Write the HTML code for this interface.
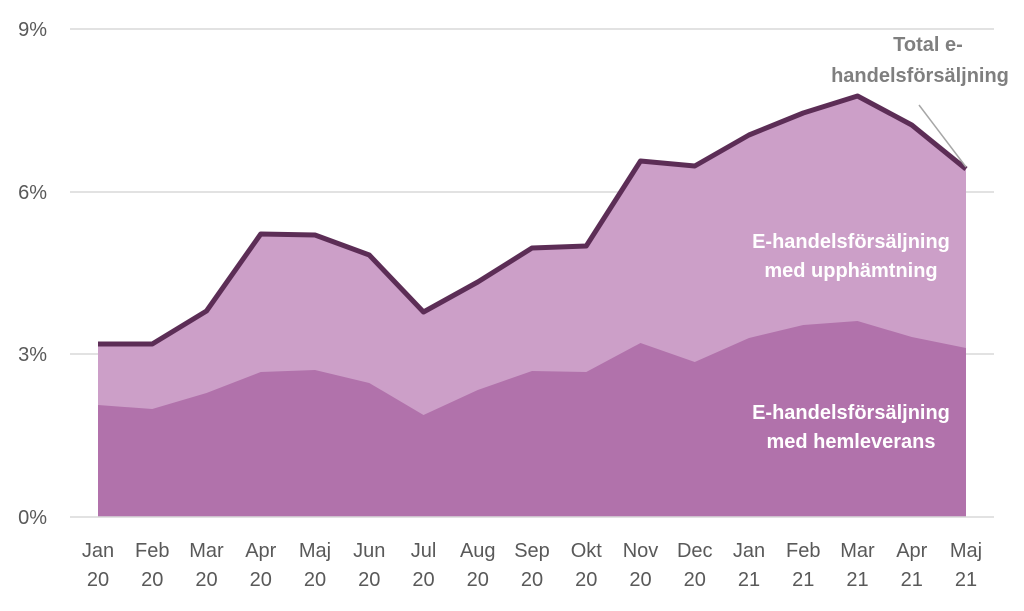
<!DOCTYPE html>
<html><head><meta charset="utf-8"><style>
html,body{margin:0;padding:0;background:#fff;}
svg{display:block;font-family:"Liberation Sans",sans-serif;}
</style></head><body>
<svg width="1024" height="611" viewBox="0 0 1024 611">
<g stroke="#d9d9d9" stroke-width="1.5">
<line x1="70" y1="29" x2="994" y2="29"/>
<line x1="70" y1="192" x2="994" y2="192"/>
<line x1="70" y1="354" x2="994" y2="354"/>
</g>
<polygon fill="#cc9fc8" points="98,344 152.25,344 206.5,311 260.75,234 315,235 369.25,255 423.5,312 477.75,282 532,248 586.25,246 640.5,161 694.75,166 749,135 803.25,113 857.5,96 911.75,125 966,169 966,517 98,517"/>
<polygon fill="#b172ab" points="98,405 152.25,409 206.5,393 260.75,372 315,370 369.25,383 423.5,415 477.75,390 532,371 586.25,372 640.5,343 694.75,362 749,338 803.25,325 857.5,321 911.75,337 966,348 966,517 98,517"/>
<line x1="70" y1="517" x2="994" y2="517" stroke="#d9d9d9" stroke-width="1.5"/>
<polyline fill="none" stroke="#5c2d56" stroke-width="5" stroke-linejoin="round" points="98,344 152.25,344 206.5,311 260.75,234 315,235 369.25,255 423.5,312 477.75,282 532,248 586.25,246 640.5,161 694.75,166 749,135 803.25,113 857.5,96 911.75,125 966,169"/>
<line x1="919" y1="105" x2="966" y2="167" stroke="#a6a6a6" stroke-width="1.5"/>
<g fill="#595959" font-size="20" text-anchor="end">
<text x="47" y="36">9%</text><text x="47" y="199">6%</text><text x="47" y="361">3%</text><text x="47" y="524">0%</text>
</g>
<g fill="#595959" font-size="20" text-anchor="middle">
<text x="98" y="557">Jan</text><text x="98" y="586">20</text>
<text x="152.25" y="557">Feb</text><text x="152.25" y="586">20</text>
<text x="206.5" y="557">Mar</text><text x="206.5" y="586">20</text>
<text x="260.75" y="557">Apr</text><text x="260.75" y="586">20</text>
<text x="315" y="557">Maj</text><text x="315" y="586">20</text>
<text x="369.25" y="557">Jun</text><text x="369.25" y="586">20</text>
<text x="423.5" y="557">Jul</text><text x="423.5" y="586">20</text>
<text x="477.75" y="557">Aug</text><text x="477.75" y="586">20</text>
<text x="532" y="557">Sep</text><text x="532" y="586">20</text>
<text x="586.25" y="557">Okt</text><text x="586.25" y="586">20</text>
<text x="640.5" y="557">Nov</text><text x="640.5" y="586">20</text>
<text x="694.75" y="557">Dec</text><text x="694.75" y="586">20</text>
<text x="749" y="557">Jan</text><text x="749" y="586">21</text>
<text x="803.25" y="557">Feb</text><text x="803.25" y="586">21</text>
<text x="857.5" y="557">Mar</text><text x="857.5" y="586">21</text>
<text x="911.75" y="557">Apr</text><text x="911.75" y="586">21</text>
<text x="966" y="557">Maj</text><text x="966" y="586">21</text>
</g>
<g font-weight="bold" font-size="20" text-anchor="middle">
<text x="928" y="51" fill="#7f7f7f">Total e-</text>
<text x="920" y="82" fill="#7f7f7f">handelsförsäljning</text>
<text x="851" y="248" fill="#fff">E-handelsförsäljning</text>
<text x="851" y="277" fill="#fff">med upphämtning</text>
<text x="851" y="419" fill="#fff">E-handelsförsäljning</text>
<text x="851" y="448" fill="#fff">med hemleverans</text>
</g>
</svg>
</body></html>
